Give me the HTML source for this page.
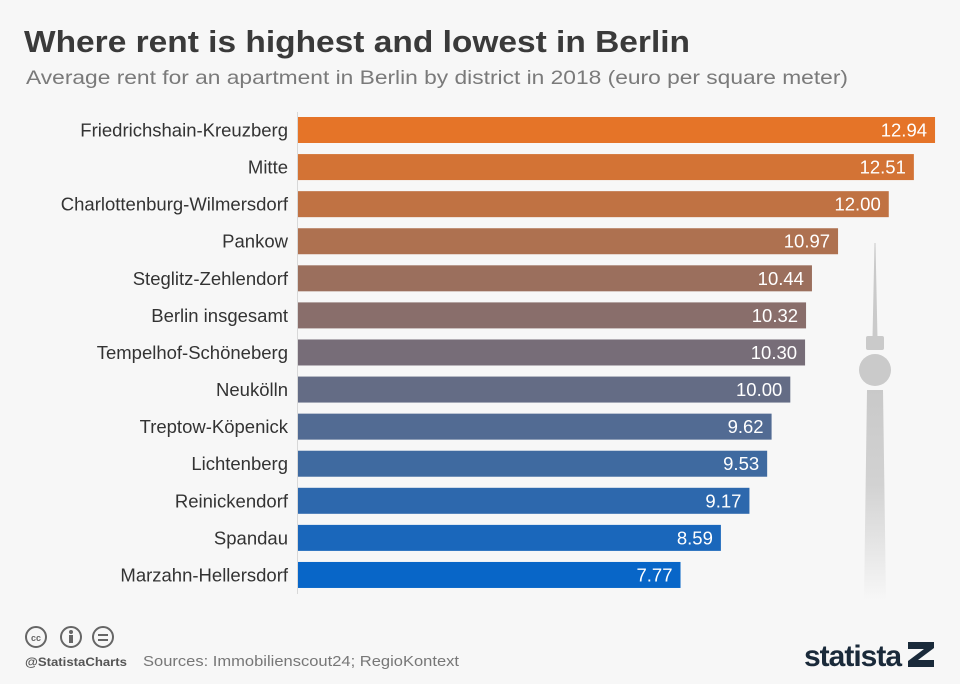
<!DOCTYPE html>
<html><head><meta charset="utf-8"><style>
body{margin:0;background:#f7f7f7;font-family:"Liberation Sans",sans-serif;}
#c{position:relative;width:960px;height:684px;overflow:hidden;background:#f7f7f7;}
</style></head><body>
<div id="c">
<svg id="s" width="960" height="684">
<text x="24" y="52" font-size="31" font-weight="bold" fill="#3a3a3a" textLength="666" lengthAdjust="spacingAndGlyphs">Where rent is highest and lowest in Berlin</text>
<text x="26" y="84" font-size="19.5" fill="#7a7a7a" textLength="822" lengthAdjust="spacingAndGlyphs">Average rent for an apartment in Berlin by district in 2018 (euro per square meter)</text>
<defs><linearGradient id="tg" x1="0" y1="0" x2="0" y2="1"><stop offset="0" stop-color="#c9c9c9"/><stop offset="0.45" stop-color="#d2d2d2"/><stop offset="1" stop-color="#f7f7f7"/></linearGradient></defs>
<g fill="#cacaca">
<polygon points="874.5,243 875.5,243 877.5,338 872.5,338"/>
<rect x="866" y="336" width="18" height="14" rx="2"/>
<circle cx="875" cy="370" r="16"/>
<polygon points="867,390 883,390 886,600 864,600" fill="url(#tg)"/>
</g>
<line x1="297.5" y1="112" x2="297.5" y2="594" stroke="#d8d8d8" stroke-width="1"/>
<g id="bars"></g>
<g>
<circle cx="36" cy="637" r="10" fill="none" stroke="#666" stroke-width="2"/>
<text x="36" y="641" font-size="9" font-weight="bold" fill="#666" text-anchor="middle">cc</text>
<circle cx="71" cy="637" r="10" fill="none" stroke="#666" stroke-width="2"/>
<circle cx="71" cy="632" r="2" fill="#666"/><rect x="69" y="635" width="4" height="8" fill="#666"/>
<circle cx="103" cy="637" r="10" fill="none" stroke="#666" stroke-width="2"/>
<rect x="98" y="634" width="10" height="2" fill="#666"/><rect x="98" y="639" width="10" height="2" fill="#666"/>
<text x="25" y="666" font-size="12" font-weight="bold" fill="#555" textLength="102" lengthAdjust="spacingAndGlyphs">@StatistaCharts</text>
<text x="143" y="666" font-size="14.5" fill="#777" textLength="316" lengthAdjust="spacingAndGlyphs">Sources: Immobilienscout24; RegioKontext</text>
<text x="804" y="666" font-size="30" font-weight="bold" fill="#1a2a3a" letter-spacing="-1">statista</text>
<polygon points="908,642 934,642 934,648 918,660 934,660 934,667 908,667 908,661 924,649 908,649" fill="#1a2a3a"/>
</g>
</svg>
<script>
const categories=["Friedrichshain-Kreuzberg","Mitte","Charlottenburg-Wilmersdorf","Pankow","Steglitz-Zehlendorf","Berlin insgesamt","Tempelhof-Schöneberg","Neukölln","Treptow-Köpenick","Lichtenberg","Reinickendorf","Spandau","Marzahn-Hellersdorf"];
const values=[12.94,12.51,12.00,10.97,10.44,10.32,10.30,10.00,9.62,9.53,9.17,8.59,7.77];
const valueLabels=["12.94","12.51","12.00","10.97","10.44","10.32","10.30","10.00","9.62","9.53","9.17","8.59","7.77"];
const X0=298,PX=49.23,Y0=117,STEP=37.08,BH=26;
const xs=v=>X0+v*PX, ys=i=>Y0+i*STEP;
const c1=[229,116,40],c2=[8,102,200];
const ns="http://www.w3.org/2000/svg",g=document.getElementById("bars");
categories.forEach((cat,i)=>{
 const t=i/(categories.length-1);
 const col=`rgb(${c1.map((a,k)=>Math.round(a+(c2[k]-a)*t)).join(",")})`;
 const r=document.createElementNS(ns,"rect");
 r.setAttribute("x",X0);r.setAttribute("y",ys(i));r.setAttribute("width",xs(values[i])-X0);r.setAttribute("height",BH);r.setAttribute("fill",col);
 
 
 g.appendChild(r);
 const l=document.createElementNS(ns,"text");
 l.setAttribute("x",288);l.setAttribute("y",ys(i)+BH/2+6.5);l.setAttribute("text-anchor","end");l.setAttribute("font-size","18.5");l.setAttribute("fill","#333");
 l.textContent=cat;
 
 
 g.appendChild(l);
 const v=document.createElementNS(ns,"text");
 v.setAttribute("x",xs(values[i])-8);v.setAttribute("y",ys(i)+BH/2+6.5);v.setAttribute("text-anchor","end");v.setAttribute("font-size","18.5");v.setAttribute("fill","#fff");
 v.textContent=valueLabels[i];
 
 
 g.appendChild(v);
});
</script>
</div>
</body></html>
